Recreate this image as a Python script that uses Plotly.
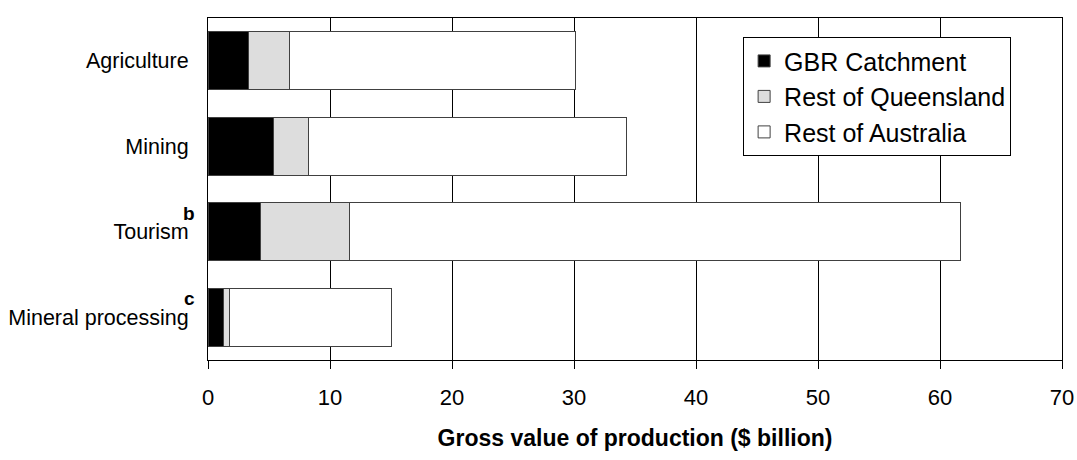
import plotly.graph_objects as go

categories = ["Agriculture", "Mining", "Tourism", "Mineral processing"]
superscripts = ["", "", "b", "c"]
gbr_catchment = [3.3, 5.4, 4.3, 1.3]
rest_of_queensland = [3.4, 2.8, 7.3, 0.45]
rest_of_australia = [23.4, 26.1, 50.1, 13.25]
series_names = ["GBR Catchment", "Rest of Queensland", "Rest of Australia"]
x_ticks = [0, 10, 20, 30, 40, 50, 60, 70]

FONT = "Liberation Sans, Arial, sans-serif"
colors = ["#000000", "#DDDDDD", "#FFFFFF"]

fig = go.Figure()
for name, vals, col in zip(series_names,
                           [gbr_catchment, rest_of_queensland, rest_of_australia],
                           colors):
    fig.add_trace(go.Bar(
        y=categories, x=vals, name=name, orientation="h",
        marker=dict(color=col, line=dict(color="#404040", width=1)),
    ))

for cat, sup in zip(categories, superscripts):
    if sup:
        fig.add_annotation(
            x=0, xref="paper", y=cat, yref="y", text="<b>%s</b>" % sup,
            showarrow=False, xanchor="right", yanchor="bottom",
            xshift=-11, yshift=6,
            font=dict(family=FONT, size=19, color="black"),
        )

fig.update_layout(
    width=1077, height=460,
    margin=dict(l=208, r=15, t=18, b=100),
    barmode="stack", bargap=0.32,
    plot_bgcolor="white", paper_bgcolor="white",
    font=dict(family=FONT, color="black", size=21),
    showlegend=True,
    legend=dict(
        x=0.6266, y=0.944, xanchor="left", yanchor="top",
        bordercolor="black", borderwidth=1, bgcolor="white",
        font=dict(family=FONT, size=25, color="black"),
        traceorder="normal", tracegroupgap=0,
    ),
    xaxis=dict(
        range=[0, 70], tickvals=x_ticks, ticks="outside", ticklen=8,
        tickcolor="black", showgrid=True, gridcolor="black", gridwidth=1,
        showline=True, linecolor="black", linewidth=1, mirror=True,
        zeroline=False, tickfont=dict(size=22), ticklabelstandoff=10,
        automargin=False,
        title=dict(text="<b>Gross value of production ($ billion)</b>",
                   font=dict(size=23), standoff=20),
    ),
    yaxis=dict(
        autorange="reversed", showline=True, linecolor="black", linewidth=1,
        mirror=True, ticks="", tickfont=dict(size=21.5), showgrid=False,
        ticklabelstandoff=14, automargin=False,
    ),
)

fig.write_html("out.html")
